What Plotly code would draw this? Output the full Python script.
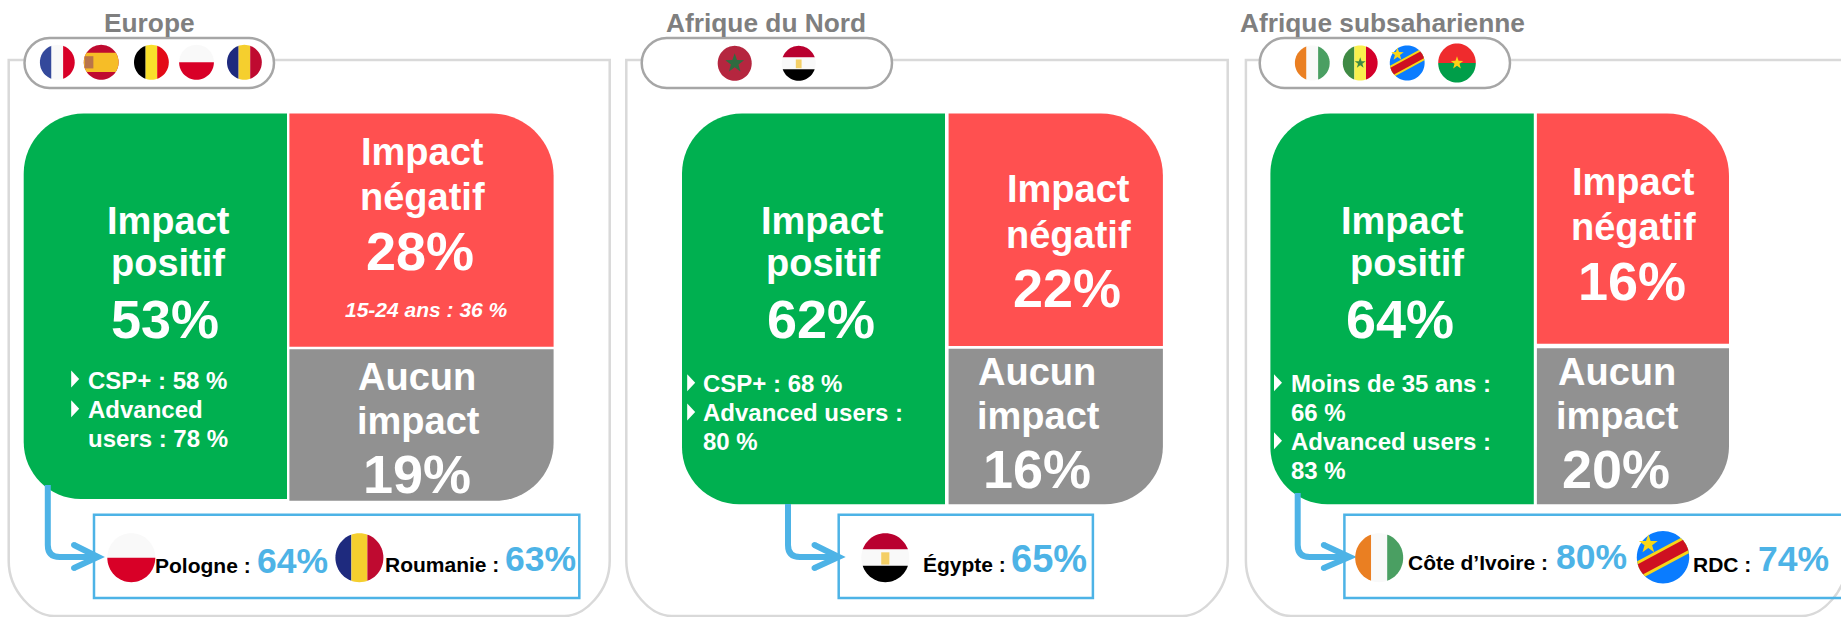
import math
import plotly.graph_objects as go

# ---------- data ----------
regions = ["Europe", "Afrique du Nord", "Afrique subsaharienne"]
positive = [53, 62, 64]
negative = [28, 22, 16]
no_impact = [19, 16, 20]
negative_note = ["15-24 ans : 36 %", "", ""]
segment_lines = [
    ["CSP+ : 58 %", "Advanced", "users : 78 %"],
    ["CSP+ : 68 %", "Advanced users :", "80 %"],
    ["Moins de 35 ans :", "66 %", "Advanced users :", "83 %"],
]
highlight_names = [["Pologne :", "Roumanie :"], ["Égypte :"], ["Côte d’Ivoire :", "RDC :"]]
highlight_values = [[64, 63], [65], [80, 74]]
header_flags = [["fr", "es", "be", "pl", "ro"], ["ma", "eg"], ["ci", "sn", "cd", "bf"]]
highlight_flags = [["pl", "ro"], ["eg"], ["ci", "cd"]]

# ---------- layout (positions in page pixels) ----------
GREEN, RED, GRAY = "#00b050", "#ff5050", "#919191"
BLUE, TITLE, FRAME, PILL = "#4db3e6", "#7f7f7f", "#d9d9d9", "#a6a6a6"
FONT = "Liberation Sans"

P = [
    dict(frame=(8.7, 609.7), pill=(24.5, 274), title_x=149,
         hf=[(57.3, 62.3, 17.4, 17.5), (101.2, 62.3, 17.4, 17.5), (151.4, 62.3, 17.4, 17.5), (196.5, 62.3, 17.4, 17.5), (244.4, 62.3, 17.4, 17.5)],
         green=(23.7, 287, 113.5, 499), red=(289.4, 553.6, 113.5, 346.7), gray=(289.4, 553.6, 349.3, 500.7),
         gt=[(168, 232.7), (168, 275), (165, 336.7)],
         rt=[(422, 164), (422, 209), (420, 269)], note=(426, 316),
         nt=[(417, 388.7), (418, 432.7), (417, 491.7)],
         tri_x=71.2, tri_y=[379, 408.7], seg_x=87.8, seg_y=[387.7, 416.7, 446],
         conn=(47.8, 485, 98, 74), box=(94, 579.3),
         lf=[(131.3, 557.7, 24, 24.5), (359.4, 557.7, 24, 24.5)],
         names=[(155.4, 571.7), (384.7, 570.7)], vals=[(257, 572.7), (505.3, 570.7)], valsize=[35.5, 35.5]),
    dict(frame=(626.3, 1227.7), pill=(641.7, 892), title_x=766.3,
         hf=[(734.7, 63.3, 17, 17.5), (798.7, 63.3, 17, 17.5)],
         green=(682, 945, 113.5, 504.3), red=(948.6, 1162.9, 113.5, 346), gray=(948.6, 1162.9, 348.7, 504.3),
         gt=[(822.8, 232.7), (822.8, 275), (820.9, 336.7)],
         rt=[(1068, 201), (1068, 246.7), (1066.8, 306)], note=None,
         nt=[(1037, 383.7), (1038, 427.7), (1037, 486.7)],
         tri_x=687.2, tri_y=[382.7, 412], seg_x=703.4, seg_y=[390.7, 420, 449],
         conn=(788, 504, 838.7, 814.5), box=(838.7, 1092.9),
         lf=[(885.3, 557.7, 24, 24.5)],
         names=[(923.3, 570.7)], vals=[(1011.4, 570.7)], valsize=[38]),
    dict(frame=(1245.9, 1847), pill=(1259.7, 1510), title_x=1382.7,
         hf=[(1312.3, 63, 17.4, 17.5), (1360.2, 63, 17.4, 17.5), (1407.2, 63, 17.4, 17.5), (1457, 63, 18.8, 19.5)],
         green=(1270.4, 1533.8, 113.5, 504.3), red=(1536.9, 1729, 113.5, 343.7), gray=(1536.9, 1729, 348.3, 504.3),
         gt=[(1402, 232.7), (1406.8, 275), (1400, 336.7)],
         rt=[(1633, 194.3), (1633, 238.7), (1632, 298.7)], note=None,
         nt=[(1617.2, 383.7), (1617.6, 427.7), (1616.4, 486.7)],
         tri_x=1274, tri_y=[382.7, 440.7], seg_x=1290.6, seg_y=[390.7, 420, 449, 477.7],
         conn=(1297.7, 493, 1349.5, 1323.8), box=(1344.4, 1860),
         lf=[(1379.2, 557.7, 24, 24.5), (1663, 557.2, 26.2, 26.2)],
         names=[(1407.6, 568.3), (1693, 570.3)], vals=[(1556.3, 568.3), (1758, 570.7)], valsize=[35.5, 35.5]),
]
BASE_SHIFT = 1

shapes, annotations = [], []


def path_of(pts, closed=True):
    return "M " + " L ".join(f"{x:.2f},{y:.2f}" for x, y in pts) + (" Z" if closed else "")


def add_path(path, fill=None, line=None, width=0):
    s = dict(type="path", path=path, xref="x", yref="y", layer="above")
    s["fillcolor"] = fill if fill else "rgba(0,0,0,0)"
    s["line"] = dict(color=line, width=width) if line else dict(width=0)
    shapes.append(s)


def rrect(x0, x1, y0, y1, tl=0, tr=0, br=0, bl=0):
    k = 0.45
    p = [f"M {x0 + tl},{y0}", f"L {x1 - tr},{y0}"]
    if tr:
        p.append(f"C {x1 - tr * k},{y0} {x1},{y0 + tr * k} {x1},{y0 + tr}")
    p.append(f"L {x1},{y1 - br}")
    if br:
        p.append(f"C {x1},{y1 - br * k} {x1 - br * k},{y1} {x1 - br},{y1}")
    p.append(f"L {x0 + bl},{y1}")
    if bl:
        p.append(f"C {x0 + bl * k},{y1} {x0},{y1 - bl * k} {x0},{y1 - bl}")
    p.append(f"L {x0},{y0 + tl}")
    if tl:
        p.append(f"C {x0},{y0 + tl * k} {x0 + tl * k},{y0} {x0 + tl},{y0}")
    p.append("Z")
    return " ".join(p)


def text(s, x, base, size, color="white", anchor="center", italic=False):
    annotations.append(dict(
        text=f"<b>{s}</b>", x=x, y=base + BASE_SHIFT - 0.3465 * size, xref="x", yref="y", showarrow=False,
        xanchor=anchor, yanchor="middle", borderpad=0, borderwidth=0,
        font=dict(family=FONT, size=size, color=color, style="italic" if italic else "normal"),
    ))


# flags, in a unit circle
def circle(n=64):
    return [(math.cos(2 * math.pi * i / n), math.sin(2 * math.pi * i / n)) for i in range(n)]


def clip(poly, a, b, c):
    """keep a*x + b*y <= c"""
    out = []
    for i, p in enumerate(poly):
        q = poly[(i + 1) % len(poly)]
        dp, dq = a * p[0] + b * p[1] - c, a * q[0] + b * q[1] - c
        if dp <= 0:
            out.append(p)
        if dp * dq < 0:
            t = dp / (dp - dq)
            out.append((p[0] + t * (q[0] - p[0]), p[1] + t * (q[1] - p[1])))
    return out


def band(axis, lo, hi):
    a, b = axis
    return clip(clip(circle(), a, b, hi), -a, -b, -lo)


def star(cx, cy, r):
    pts = []
    for i in range(10):
        rad = r if i % 2 == 0 else r * 0.4
        ang = -math.pi / 2 + i * math.pi / 5
        pts.append((cx + rad * math.cos(ang), cy + rad * math.sin(ang)))
    return pts


def vstripes(c1, c2, c3):
    return [(band((1, 0), -2, -1 / 3), c1), (band((1, 0), -1 / 3, 1 / 3), c2), (band((1, 0), 1 / 3, 2), c3)]


def hstripes(c1, c2, c3):
    return [(band((0, 1), -2, -1 / 3), c1), (band((0, 1), -1 / 3, 1 / 3), c2), (band((0, 1), 1 / 3, 2), c3)]


def rect(x0, x1, y0, y1):
    return [(x0, y0), (x1, y0), (x1, y1), (x0, y1)]


FLAGS = {
    "fr": vstripes("#34499b", "#f9f9f9", "#d80027"),
    "be": vstripes("#000000", "#f9e02b", "#e30a17"),
    "ro": vstripes("#1e2a7e", "#f5cf2e", "#bf0a30"),
    "ci": vstripes("#ea7f22", "#f9f9f9", "#4a9f62"),
    "sn": vstripes("#3f8a44", "#f9f04e", "#d4002a") + [(star(0, 0, 0.33), "#3f8a44")],
    "es": [(circle(), "#bf0a30"), (band((0, 1), -0.55, 0.55), "#f6bd27"), (rect(-0.95, -0.45, -0.35, 0.35), "#b9744a")],
    "pl": [(band((0, 1), -2, 0.0), "#f9f9f9"), (band((0, 1), 0.0, 2), "#d80027")],
    "eg": hstripes("#b9002f", "#f9f9f9", "#000000") + [(rect(-0.17, 0.17, -0.22, 0.28), "#f4cf66")],
    "ma": [(circle(), "#b5263f"), (star(0, 0, 0.58), "#2f6b40")],
    "bf": [(band((0, 1), -2, 0), "#ef2b2d"), (band((0, 1), 0, 2), "#009e49"), (star(0, 0, 0.35), "#fcd116")],
    "cd": [(circle(), "#0a7cff"), (band((0.47, 0.88), -0.33, 0.33), "#f7d618"),
           (band((0.47, 0.88), -0.22, 0.22), "#ce1021"), (star(-0.56, -0.5, 0.38), "#f7d618")],
}


def flag(code, cx, cy, rx, ry):
    for poly, color in FLAGS[code]:
        add_path(path_of([(cx + rx * x, cy + ry * y) for x, y in poly]), fill=color)


def dot(x, y, r, color):
    add_path(path_of([(x + r * cx, y + r * cy) for cx, cy in circle(16)]), fill=color)


for i, p in enumerate(P):
    # frame, open at the bottom of the page
    fx0, fx1 = p["frame"]
    add_path(f"M {fx0},60 L {fx1},60 L {fx1},561 C {fx1},591 {fx1 - 25},616 {fx1 - 45},616 "
             f"L {fx0 + 45},616 C {fx0 + 25},616 {fx0},591 {fx0},561 Z", line=FRAME, width=2.5)
    # pill with the flags
    px0, px1 = p["pill"]
    add_path(rrect(px0, px1, 38, 88, 25, 25, 25, 25), fill="white", line=PILL, width=2.5)
    text(regions[i], p["title_x"], 30.7, 26.3, color=TITLE)
    for code, (cx, cy, rx, ry) in zip(header_flags[i], p["hf"]):
        flag(code, cx, cy, rx, ry)
    # three cells
    x0, x1, y0, y1 = p["green"]
    add_path(rrect(x0, x1, y0, y1, tl=60, bl=57), fill=GREEN)
    x0, x1, y0, y1 = p["red"]
    add_path(rrect(x0, x1, y0, y1, tr=62), fill=RED)
    x0, x1, y0, y1 = p["gray"]
    add_path(rrect(x0, x1, y0, y1, br=58), fill=GRAY)
    # cell texts
    for s, (x, b), size in zip(["Impact", "positif", f"{positive[i]}%"], p["gt"], [38, 38, 54]):
        text(s, x, b, size)
    for s, (x, b), size in zip(["Impact", "négatif", f"{negative[i]}%"], p["rt"], [38, 38, 54]):
        text(s, x, b, size)
    for s, (x, b), size in zip(["Aucun", "impact", f"{no_impact[i]}%"], p["nt"], [38, 38, 54]):
        text(s, x, b, size)
    if p["note"]:
        text(negative_note[i], p["note"][0], p["note"][1], 21, italic=True)
    for s, b in zip(segment_lines[i], p["seg_y"]):
        text(s, p["seg_x"], b, 24, anchor="left")
    for ty in p["tri_y"]:
        tx = p["tri_x"]
        add_path(path_of([(tx, ty - 8.5), (tx + 8, ty), (tx, ty + 8.5)]), fill="white")
    # highlight box and connector
    bx0, bx1 = p["box"]
    add_path(rrect(bx0, bx1, 514.7, 598), line=BLUE, width=2.5)
    cx, cy0, cend, cchev = p["conn"]
    add_path(f"M {cx},{cy0} L {cx},{545} Q {cx},{557} {cx + 12},{557} L {cend},{557}", line=BLUE, width=6)
    add_path(f"M {cchev},{545} L {cend},{557} L {cchev},{568}", line=BLUE, width=6)
    dot(cchev, 545, 3, BLUE)
    dot(cchev, 568, 3, BLUE)
    for code, (fx, fy, rx, ry) in zip(highlight_flags[i], p["lf"]):
        flag(code, fx, fy, rx, ry)
    for s, (x, b) in zip(highlight_names[i], p["names"]):
        text(s, x, b, 21, color="black", anchor="left")
    for v, (x, b), size in zip(highlight_values[i], p["vals"], p["valsize"]):
        text(f"{v}%", x, b, size, color=BLUE, anchor="left")

fig = go.Figure()
fig.update_layout(
    width=1841, height=617, margin=dict(l=0, r=0, t=0, b=0, pad=0),
    paper_bgcolor="white", plot_bgcolor="white", showlegend=False,
    xaxis=dict(range=[0, 1841], visible=False, fixedrange=True),
    yaxis=dict(range=[617, 0], visible=False, fixedrange=True),
    shapes=shapes, annotations=annotations,
)
fig.write_html("out.html", config=dict(displayModeBar=False),
               post_script="document.body.style.margin='0';document.body.style.overflow='hidden';")
